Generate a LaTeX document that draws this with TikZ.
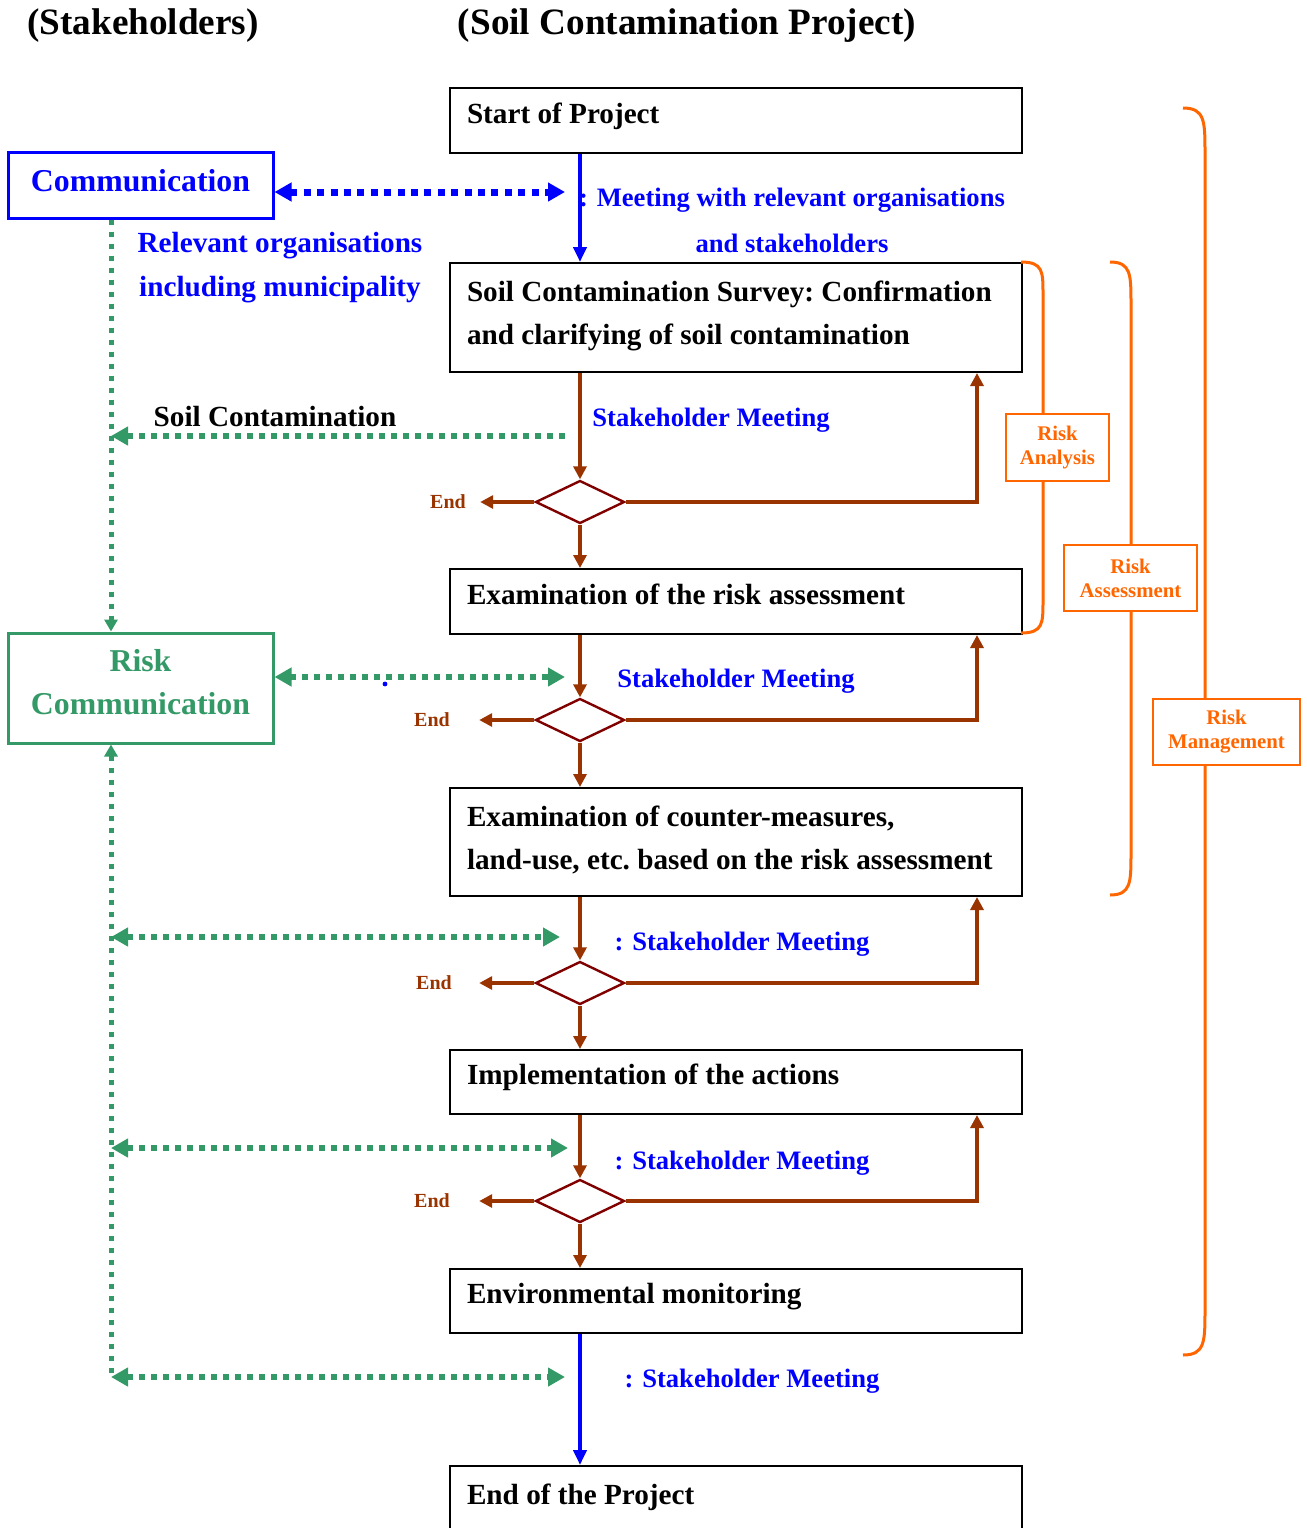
\documentclass[tikz,border=0pt]{standalone}
\usepackage{fontspec}
\setmainfont{Liberation Serif}
\usetikzlibrary{
  arrows.meta,
  calc,
  positioning,
  shapes.geometric
}
\definecolor{flowbrown}{RGB}{153,51,0}
\definecolor{dmdred}{RGB}{128,0,0}
\definecolor{rcgreen}{RGB}{51,153,102}
\definecolor{riskorange}{RGB}{255,102,0}

\begin{document}
\begin{tikzpicture}[x=0.5pt,y=-0.5pt,>=Latex,
  stepbox/.style={draw,line width=1pt,anchor=north west,minimum width=286pt,
    minimum height=32.5pt,text width=269pt,align=left,inner xsep=8.5pt,
    inner ysep=0pt,text depth=7.5pt,font=\bfseries\fontsize{14.6pt}{21.5pt}\selectfont,
    execute at begin node={\spaceskip=0pt\xspaceskip=0pt\frenchspacing}},
  decision/.style={diamond,draw=dmdred,line width=1.2pt,minimum width=44.5pt,
    minimum height=21.5pt,inner sep=0pt},
  endlabel/.style={text=flowbrown,inner ysep=2pt,font=\bfseries\fontsize{10pt}{12pt}\selectfont},
  flowarrow/.style={draw=flowbrown,line width=1.6pt,-{Triangle[length=6.5pt,width=6.5pt]}},
  mainarrow/.style={draw=blue,line width=2pt,-{Triangle[length=7.5pt,width=6.5pt]}},
  bluedots/.style={draw=blue,line width=3.5pt,dash pattern=on 3.5pt off 3.2pt,
    {Triangle[length=8.5pt,width=9pt]}-{Triangle[length=8.5pt,width=9pt]}},
  greendots/.style={draw=rcgreen,line width=3pt,dash pattern=on 3pt off 3pt},
  greenvert/.style={draw=rcgreen,line width=2.5pt,dash pattern=on 2.5pt off 3.5pt},
  commbox/.style={draw=blue,text=blue,line width=1.5pt,minimum width=132.5pt,
    minimum height=33pt,text depth=4.3pt,font=\bfseries\fontsize{15.9pt}{21.5pt}\selectfont},
  rcbox/.style={draw=rcgreen,text=rcgreen,line width=1.5pt,minimum width=132.5pt,
    minimum height=55pt,text width=120pt,align=center,text depth=27.6pt,
    font=\bfseries\fontsize{15.9pt}{21.5pt}\selectfont},
  bluetext/.style={text=blue,align=center,font=\bfseries\fontsize{13.3pt}{23pt}\selectfont},
  sidetext/.style={align=center,font=\bfseries\fontsize{14.6pt}{22pt}\selectfont},
  headtext/.style={font=\bfseries\fontsize{18.6pt}{22pt}\selectfont},
  risklabel/.style={draw=riskorange,text=riskorange,fill=white,line width=1pt,
    align=center,inner sep=0pt,font=\bfseries\fontsize{10.4pt}{12pt}\selectfont},
  riskbrace/.style={draw=riskorange,line width=1.5pt}]
  \useasboundingbox (0,0) rectangle (1307,1528);

  % headings
  \node[headtext] (headleft) at (143,26) {(Stakeholders)};
  \node[headtext] (headright) at (687,26) {(Soil Contamination Project)};

  % project steps
  \node[stepbox] (start) at (449,87) {Start of Project};
  \node[stepbox,minimum height=54.5pt,text depth=26.5pt] (survey) at (449,262)
    {Soil Contamination Survey: Confirmation\\and clarifying of soil contamination};
  \node[stepbox] (riskexam) at (449,568) {Examination of the risk assessment};
  \node[stepbox,minimum height=54pt,text depth=26pt] (counter) at (449,787)
    {Examination of counter-measures,\\land-use, etc. based on the risk assessment};
  \node[stepbox,minimum height=32pt] (implement) at (449,1049) {Implementation of the actions};
  \node[stepbox,minimum height=32pt] (monitor) at (449,1268) {Environmental monitoring};
  \node[stepbox,minimum height=36pt] (finish) at (449,1465) {End of the Project};

  % decisions
  \foreach \n/\y/\ex/\gap in {1/502/448/7,2/720/432/14.5,3/983/434/13.5,4/1201/432/14.5}{
    \node[decision] (d\n) at (580,\y) {};
    \node[endlabel,inner xsep=\gap pt] (end\n) at (\ex,\y) {End};
  }
  \coordinate (loopx) at (977,0);

  % flow
  \draw[mainarrow] (start.south -| d1) -- (survey.north -| d1);
  \foreach \above/\below/\n in {survey/riskexam/1,riskexam/counter/2,counter/implement/3,implement/monitor/4}{
    \draw[flowarrow] (\above.south -| d\n) -- (d\n.north);
    \draw[flowarrow] (d\n.south) -- (\below.north -| d\n);
    \draw[flowarrow] (d\n.east) -| (\above.south -| loopx);
    \draw[flowarrow] (d\n.west) -- (end\n.east);
  }
  \draw[mainarrow] (monitor.south -| d4) -- (finish.north -| d4);

  % meeting labels
  \node[bluetext] (meet0) at (792,220) {: Meeting with relevant organisations\\and stakeholders};
  \node[bluetext] (meet1) at (711,420) {Stakeholder Meeting};
  \node[bluetext] (meet2) at (736,681) {Stakeholder Meeting};
  \node[bluetext] (meet3) at (742,944) {: Stakeholder Meeting};
  \node[bluetext] (meet4) at (742,1163) {: Stakeholder Meeting};
  \node[bluetext] (meet5) at (752,1381) {: Stakeholder Meeting};

  % stakeholders
  \node[commbox] (comm) at (140.5,185) {Communication};
  \node[rcbox] (riskcomm) at (140.5,688) {Risk\\Communication};
  \node[sidetext,text=blue] (orgs) at (280,268) {Relevant organisations\\including municipality};
  \node[sidetext] (soil) at (275,417) {Soil Contamination};

  \coordinate (gx) at (111,0);
  \coordinate (m0) at (565,192);
  \coordinate (m1) at (565,436);
  \coordinate (m2) at (565,677);
  \coordinate (m3) at (560,937);
  \coordinate (m4) at (568,1148);
  \coordinate (m5) at (565,1377);

  \draw[greenvert,-{Triangle[length=6pt,width=6.5pt]}] (comm.south -| gx) -- (riskcomm.north -| gx);
  \draw[greenvert,{Triangle[length=6pt,width=6.5pt]}-] (riskcomm.south -| gx) -- (gx |- m5);
  \draw[bluedots] (comm.east |- m0) -- (m0);
  \draw[greendots,{Triangle[length=8.5pt,width=9pt]}-] (gx |- m1) -- (m1);
  \draw[greendots,{Triangle[length=8.5pt,width=9pt]}-{Triangle[length=8.5pt,width=9pt]}]
    (riskcomm.east |- m2) -- (m2);
  \foreach \m in {m3,m4,m5}
    \draw[greendots,{Triangle[length=8.5pt,width=9pt]}-{Triangle[length=8.5pt,width=9pt]}]
      (gx |- \m) -- (\m);
  \fill[blue] (385,684) circle (1.2pt);

  % risk braces
  \foreach \xs/\xm/\ys/\ye/\r in {1021/1043/262/633/32,1110/1131/262/895/42,1183/1205/108/1355/45}
    \draw[riskbrace] (\xs,\ys) .. controls (\xm,\ys) and (\xm,\ys+0.3*\r) .. (\xm,\ys+\r)
      -- (\xm,\ye-\r) .. controls (\xm,\ye-0.3*\r) and (\xm,\ye) .. (\xs,\ye);
  \node[risklabel,minimum width=51.5pt,minimum height=33.5pt] (analysis) at (1057.5,447.5) {Risk\\Analysis};
  \node[risklabel,minimum width=66.5pt,minimum height=33pt] (assess) at (1130.5,578) {Risk\\Assessment};
  \node[risklabel,minimum width=73.5pt,minimum height=33pt] (manage) at (1226.5,732) {Risk\\Management};
\end{tikzpicture}
\end{document}
